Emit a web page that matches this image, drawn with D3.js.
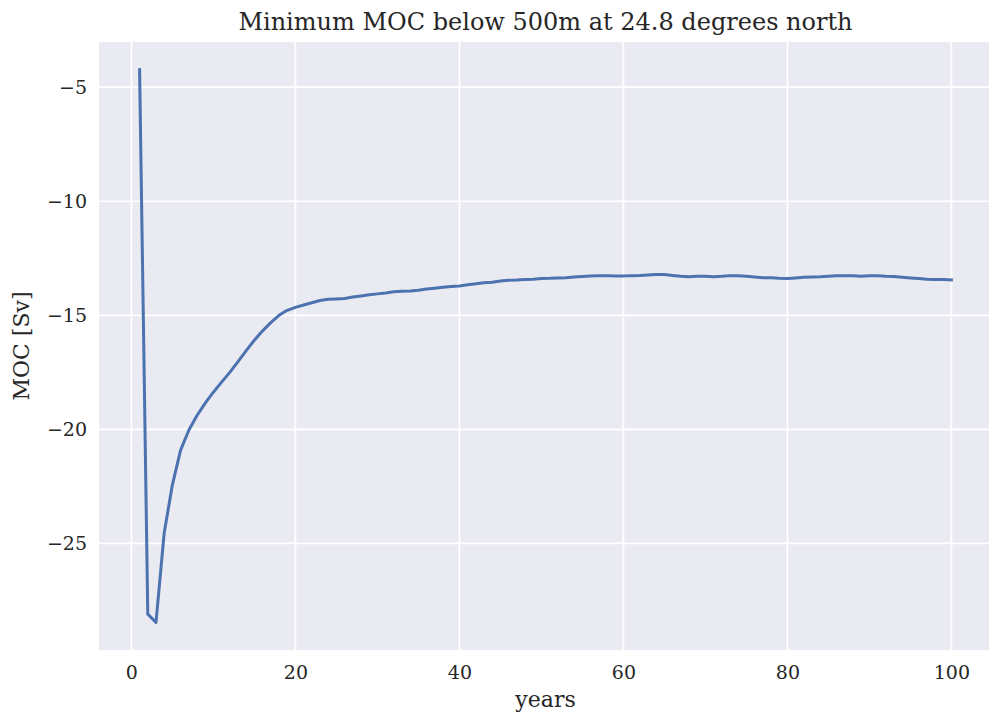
<!DOCTYPE html>
<html>
<head>
<meta charset="utf-8">
<script src="https://cdn.jsdelivr.net/npm/d3@7"></script>
<style>
  body { margin: 0; background: #fff; }
  text { font-family: "DejaVu Serif", serif; fill: #262626; }
</style>
</head>
<body>
<div id="chart"></div>
<script>
// years 1..100
const years = d3.range(1, 101);
const moc = [
  -4.23, -28.1, -28.46, -24.54, -22.43, -20.91, -20.04, -19.39, -18.85, -18.37,
  -17.93, -17.5, -17.03, -16.55, -16.09, -15.68, -15.32, -15.0, -14.78, -14.65,
  -14.55, -14.45, -14.35, -14.3, -14.28, -14.26, -14.2, -14.15, -14.1, -14.06,
  -14.02, -13.97, -13.94, -13.93, -13.9, -13.85, -13.81, -13.77, -13.74, -13.71,
  -13.66, -13.62, -13.57, -13.55, -13.5, -13.46, -13.45, -13.43, -13.42, -13.39,
  -13.38, -13.36, -13.35, -13.32, -13.3, -13.28, -13.26, -13.26, -13.28, -13.28,
  -13.26, -13.25, -13.23, -13.21, -13.21, -13.25, -13.29, -13.31, -13.29, -13.29,
  -13.31, -13.29, -13.26, -13.27, -13.29, -13.32, -13.35, -13.35, -13.38, -13.39,
  -13.36, -13.33, -13.32, -13.31, -13.29, -13.27, -13.26, -13.27, -13.29, -13.27,
  -13.27, -13.29, -13.3, -13.33, -13.36, -13.39, -13.42, -13.43, -13.43, -13.45
];
const xTicks = [0, 20, 40, 60, 80, 100];
const yTicks = [-5, -10, -15, -20, -25];

const W = 989, H = 715;
const margin = {top: 42, right: -3, bottom: 65, left: 99};
const width = W - margin.left - margin.right;
const height = H - margin.top - margin.bottom;

const svg = d3.select("#chart")
  .append("svg")
    .attr("width", W)
    .attr("height", H);

const g = svg.append("g")
  .attr("transform", `translate(${margin.left}, ${margin.top})`);

// matplotlib-style 5% padding
const xPad = (100 - 1) * 0.05;
const yMin = d3.min(moc), yMax = d3.max(moc);
const yPad = (yMax - yMin) * 0.05;

const x = d3.scaleLinear()
  .domain([1 - xPad, 100 + xPad])
  .range([0, width]);
const y = d3.scaleLinear()
  .domain([yMin - yPad, yMax + yPad])
  .range([height, 0]);

g.append("rect")
  .attr("width", width)
  .attr("height", height)
  .attr("fill", "#eaeaf2");

// grid
g.selectAll(".xgrid")
  .data(xTicks)
  .join("line")
    .attr("x1", d => x(d)).attr("x2", d => x(d))
    .attr("y1", 0).attr("y2", height)
    .attr("stroke", "#fff").attr("stroke-width", 1.7);
g.selectAll(".ygrid")
  .data(yTicks)
  .join("line")
    .attr("class", "ygrid")
    .attr("y1", d => y(d)).attr("y2", d => y(d))
    .attr("x1", 0).attr("x2", width)
    .attr("stroke", "#fff").attr("stroke-width", 1.7);

// axes (labels only)
const xAxis = g.append("g")
  .attr("transform", `translate(0, ${height})`)
  .call(d3.axisBottom(x).tickValues(xTicks).tickSize(0).tickPadding(16));
const yAxis = g.append("g")
  .call(d3.axisLeft(y).tickValues(yTicks).tickSize(0).tickPadding(12)
    .tickFormat(d => "\u2212" + Math.abs(d)));
[xAxis, yAxis].forEach(a => {
  a.select(".domain").remove();
  a.selectAll("text")
    .style("font-family", "DejaVu Serif, serif")
    .style("font-size", "19px")
    .attr("fill", "#262626");
});

// line
const line = d3.line()
  .x((d, i) => x(years[i]))
  .y(d => y(d));
g.append("path")
  .datum(moc)
  .attr("d", line)
  .attr("fill", "none")
  .attr("stroke", "#4c72b0")
  .attr("stroke-width", 3)
  .attr("stroke-linejoin", "round")
  .attr("stroke-linecap", "square");

// titles
svg.append("text")
  .attr("x", margin.left + width / 2)
  .attr("y", 30)
  .attr("text-anchor", "middle")
  .style("font-size", "24px")
  .text("Minimum MOC below 500m at 24.8 degrees north");

svg.append("text")
  .attr("x", margin.left + width / 2)
  .attr("y", 707)
  .attr("text-anchor", "middle")
  .style("font-size", "22px")
  .text("years");

svg.append("text")
  .attr("transform", `translate(29, ${margin.top + height / 2}) rotate(-90)`)
  .attr("text-anchor", "middle")
  .style("font-size", "22px")
  .text("MOC [Sv]");
</script>
</body>
</html>
